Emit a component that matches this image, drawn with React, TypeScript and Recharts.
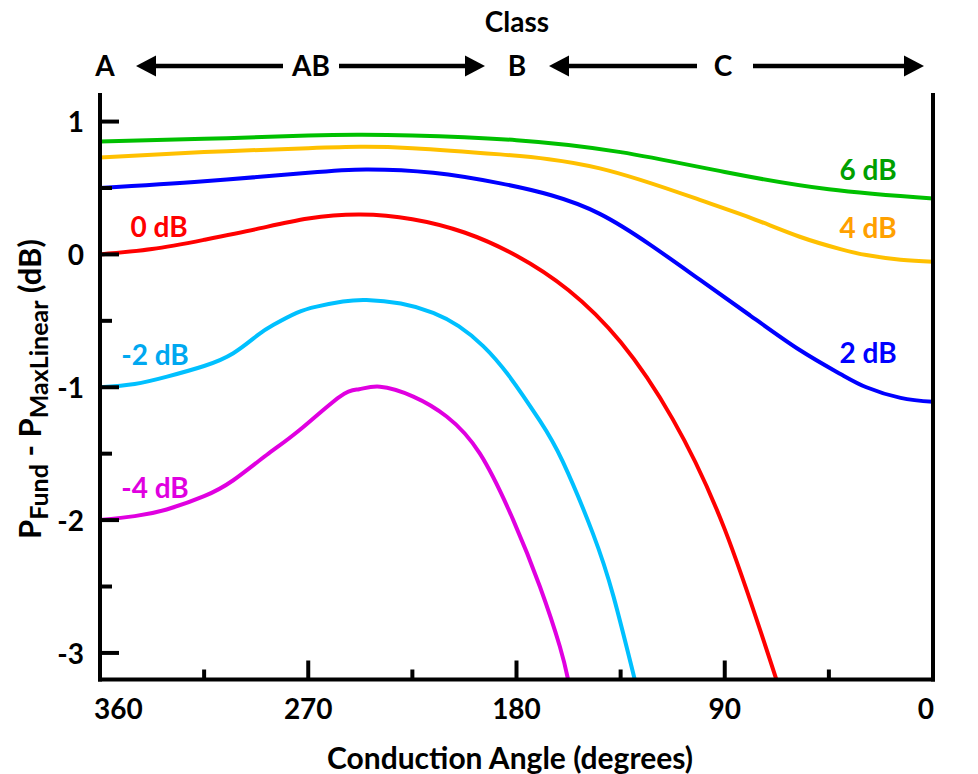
import { LineChart, Line, XAxis, YAxis } from 'recharts';

const W = 978;
const H = 774;
const PLOT_LEFT = 100;
const PLOT_RIGHT = 933;
const PLOT_TOP = 95;
const PLOT_BOTTOM = 679.5;
const FONT = 'Lato, "Open Sans", sans-serif';
const FS = 28;
const TITLE_FS = 30;

// axis ticks
const angleTicks = [0, 45, 90, 135, 180, 225, 270, 315, 360];
const dbTicks = [-3, -2.5, -2, -1.5, -1, -0.5, 0, 0.5, 1];

// drive level curves: conduction angle (deg) vs Pfund - PmaxLinear (dB)
const angles6dB = [360, 315, 270, 247.5, 225, 180, 135, 90, 45, 0];
const values6dB = [0.85, 0.87, 0.895, 0.9, 0.895, 0.86, 0.77, 0.62, 0.49, 0.42];

const angles4dB = [360, 315, 270, 247.5, 225, 187, 144, 100.8, 78, 57.6, 40, 28.8, 14, 0];
const values4dB = [0.73, 0.77, 0.8, 0.81, 0.8, 0.753, 0.648, 0.41, 0.27, 0.133, 0.04, -0.005, -0.04, -0.055];

const angles2dB = [360, 315, 270, 245, 216, 187, 165, 144, 122, 100.8, 79, 57.6, 40, 28.8, 14, 0];
const values2dB = [0.5, 0.55, 0.615, 0.64, 0.615, 0.535, 0.445, 0.305, 0.07, -0.19, -0.46, -0.72, -0.9, -1.0, -1.08, -1.11];

const angles0dB = [360, 337.5, 315, 292.5, 270, 247.5, 225, 202.5, 180, 157.5, 135, 112.5, 90, 67.7];
const values0dB = [0, 0.04, 0.11, 0.19, 0.27, 0.3, 0.265, 0.165, -0.01, -0.27, -0.66, -1.24, -2.07, -3.2];

const anglesM2dB = [360, 345, 331, 315, 302.4, 292, 285, 275, 266.4, 255, 244.8, 230, 216, 205, 194.4, 183, 170, 160, 147, 138, 128.9];
const valuesM2dB = [-1.0, -0.975, -0.92, -0.84, -0.744, -0.61, -0.53, -0.44, -0.393, -0.355, -0.343, -0.37, -0.44, -0.54, -0.69, -0.92, -1.25, -1.56, -2.1, -2.58, -3.2];

const anglesM4dB = [360, 345, 331.2, 315, 302.4, 288, 273.6, 256.3, 248, 239, 224.6, 210.2, 195.8, 181.4, 169.9, 161.3, 157.7];
const valuesM4dB = [-2.0, -1.97, -1.92, -1.82, -1.7, -1.51, -1.32, -1.07, -1.015, -0.996, -1.07, -1.22, -1.5, -2.0, -2.5, -2.95, -3.2];

const toPoints = (a: number[], v: number[]) => a.map((x, i) => ({ a: x, v: v[i] }));

const series = [
  { name: '6 dB', angles: angles6dB, values: values6dB, color: '#00C000', labelColor: '#00A000', lx: 868, ly: 170 },
  { name: '4 dB', angles: angles4dB, values: values4dB, color: '#FFC000', labelColor: '#FFA000', lx: 868, ly: 228 },
  { name: '2 dB', angles: angles2dB, values: values2dB, color: '#0000FF', labelColor: '#0000FF', lx: 868, ly: 353 },
  { name: '0 dB', angles: angles0dB, values: values0dB, color: '#FF0000', labelColor: '#FF0000', lx: 159, ly: 227 },
  { name: '-2 dB', angles: anglesM2dB, values: valuesM2dB, color: '#00C0FF', labelColor: '#00A8F0', lx: 155, ly: 355 },
  { name: '-4 dB', angles: anglesM4dB, values: valuesM4dB, color: '#E000E0', labelColor: '#E000E0', lx: 155, ly: 488 },
];

const textStyle = { fontFamily: FONT, fontWeight: 700, fontSize: FS };
const titleStyle = { ...textStyle, fontSize: TITLE_FS };

const BottomTick = ({ x, payload }: any) => {
  const major = payload.value % 90 === 0;
  let anchor: 'middle' | 'start' | 'end' = 'middle';
  let tx = x;
  if (payload.value === 360) { anchor = 'start'; tx = x - 6; }
  if (payload.value === 0) { anchor = 'end'; tx = x + 1; }
  return (
    <g>
      <line x1={x} x2={x} y1={PLOT_BOTTOM} y2={PLOT_BOTTOM - (major ? 19 : 10)} stroke="#000" strokeWidth={4} />
      {major && (
        <text x={tx} y={709} dy="0.36em" textAnchor={anchor} fill="#000" style={textStyle}>
          {payload.value}
        </text>
      )}
    </g>
  );
};

const TopTick = ({ x }: any) => (
  <line x1={x} x2={x} y1={PLOT_TOP} y2={PLOT_TOP + 10} stroke="#000" strokeWidth={4} />
);

const LeftTick = ({ y, payload }: any) => {
  const major = Number.isInteger(payload.value);
  return (
    <g>
      <line x1={PLOT_LEFT} x2={PLOT_LEFT + (major ? 19 : 12)} y1={y} y2={y} stroke="#000" strokeWidth={4} />
      {major && (
        <text x={84} y={y} dy="0.38em" textAnchor="end" fill="#000" style={textStyle}>
          {payload.value}
        </text>
      )}
    </g>
  );
};

const RightTick = ({ y, payload }: any) => {
  const major = Number.isInteger(payload.value);
  return (
    <g>
      <line x1={PLOT_RIGHT} x2={PLOT_RIGHT - 18} y1={y} y2={y} stroke="#000" strokeWidth={4} />
      {major && (
        <text x={977} y={y} dy="0.38em" textAnchor="end" fill="#000" style={textStyle}>
          {payload.value}
        </text>
      )}
    </g>
  );
};

const axisLine = { stroke: '#000', strokeWidth: 4, strokeLinecap: 'square' as const };

// double-headed class arrows above the plot
const Arrow = ({ from, to, y }: { from: number; to: number; y: number }) => {
  const dir = to > from ? 1 : -1;
  const head = 20;
  const base = to - dir * head;
  return (
    <g>
      <line x1={from} x2={base} y1={y} y2={y} stroke="#000" strokeWidth={4.5} />
      <polygon points={`${to},${y} ${base},${y - 10.5} ${base},${y + 10.5}`} fill="#000" />
    </g>
  );
};

export default function App() {
  return (
    <div style={{ position: 'absolute', left: 0, top: 0, width: W, height: H, background: '#fff' }}>
      <LineChart width={W} height={H} margin={{ top: PLOT_TOP, right: 0, bottom: 0, left: 0 }}>
        <XAxis
          dataKey="a"
          type="number"
          domain={[0, 360]}
          reversed
          ticks={angleTicks}
          interval={0}
          height={H - PLOT_BOTTOM}
          axisLine={axisLine}
          tickLine={false}
          tick={<BottomTick />}
        />
        <XAxis
          xAxisId="top"
          orientation="top"
          dataKey="a"
          type="number"
          domain={[0, 360]}
          reversed
          ticks={angleTicks}
          interval={0}
          height={0}
          axisLine={axisLine}
          tickLine={false}
          tick={<TopTick />}
        />
        <YAxis
          type="number"
          domain={[-3.2, 1.2]}
          ticks={dbTicks}
          interval={0}
          width={PLOT_LEFT}
          axisLine={axisLine}
          tickLine={false}
          tick={<LeftTick />}
        />
        <YAxis
          yAxisId="right"
          orientation="right"
          type="number"
          domain={[-3.2, 1.2]}
          ticks={dbTicks}
          interval={0}
          width={W - PLOT_RIGHT}
          axisLine={axisLine}
          tickLine={false}
          tick={<RightTick />}
        />
        {series.map((s) => (
          <Line
            key={s.name}
            data={toPoints(s.angles, s.values)}
            dataKey="v"
            type="natural"
            stroke={s.color}
            strokeWidth={4}
            dot={false}
            isAnimationActive={false}
          />
        ))}
      </LineChart>

      <svg
        width={W}
        height={H}
        style={{ position: 'absolute', left: 0, top: 0, pointerEvents: 'none' }}
      >
        <text x={517} y={22} dy="0.36em" textAnchor="middle" fill="#000" style={textStyle}>Class</text>
        <text x={105} y={66} dy="0.36em" textAnchor="middle" fill="#000" style={textStyle}>A</text>
        <text x={311} y={66} dy="0.36em" textAnchor="middle" fill="#000" style={textStyle}>AB</text>
        <text x={517} y={66} dy="0.36em" textAnchor="middle" fill="#000" style={textStyle}>B</text>
        <text x={723} y={66} dy="0.36em" textAnchor="middle" fill="#000" style={textStyle}>C</text>
        <Arrow from={283} to={136} y={66} />
        <Arrow from={339} to={485} y={66} />
        <Arrow from={697} to={549} y={66} />
        <Arrow from={753} to={924} y={66} />

        {series.map((s) => (
          <text
            key={s.name}
            x={s.lx}
            y={s.ly}
            dy="0.36em"
            textAnchor="middle"
            fill={s.labelColor}
            style={textStyle}
          >
            {s.name}
          </text>
        ))}

        <text x={510} y={758} dy="0.36em" textAnchor="middle" fill="#000" style={titleStyle}>
          Conduction Angle (degrees)
        </text>

        <text
          transform="translate(30, 389) rotate(-90)"
          textAnchor="middle"
          dy="0.36em"
          fill="#000"
          style={{ ...titleStyle, fontSize: 31 }}
        >
          <tspan>P</tspan>
          <tspan fontSize={25} dy={7}>Fund</tspan>
          <tspan dy={-7}> - P</tspan>
          <tspan fontSize={25} dy={7}>MaxLinear</tspan>
          <tspan dy={-7}> (dB)</tspan>
        </text>
      </svg>
    </div>
  );
}
